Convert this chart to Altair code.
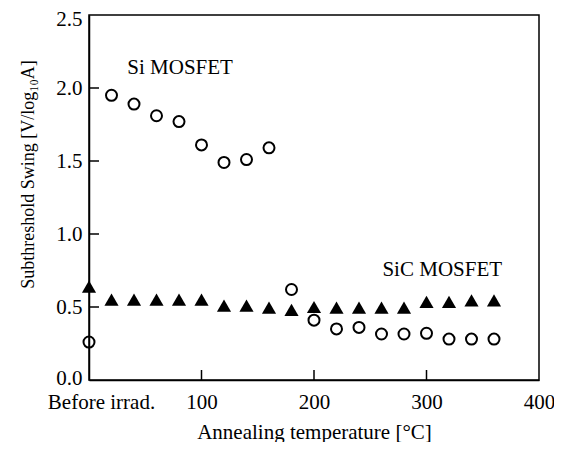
import altair as alt
import pandas as pd

# Data
temps = [0, 20, 40, 60, 80, 100, 120, 140, 160, 180, 200, 220, 240, 260, 280, 300, 320, 340, 360]
si_swing = [0.26, 1.95, 1.89, 1.81, 1.77, 1.61, 1.49, 1.51, 1.59, 0.62, 0.41, 0.35, 0.36, 0.315, 0.315, 0.32, 0.28, 0.28, 0.28]
sic_swing = [0.64, 0.55, 0.55, 0.55, 0.55, 0.55, 0.51, 0.51, 0.495, 0.48, 0.50, 0.495, 0.495, 0.495, 0.495, 0.535, 0.535, 0.545, 0.545]

x_tick_values = [0, 100, 200, 300, 400]
x_inner_ticks = [100, 200, 300]
y_tick_values = [0.0, 0.5, 1.0, 1.5, 2.0, 2.5]
y_inner_ticks = [0.5, 1.0, 1.5, 2.0]

label_text = ["Si MOSFET", "SiC MOSFET"]
label_x = [81, 314]
label_y = [2.14, 0.753]

FONT = "Liberation Serif"
FS = 21
W, H = 450, 365

si_df = pd.DataFrame({"T": temps, "S": si_swing})
sic_df = pd.DataFrame({"T": temps, "S": sic_swing})
lab_df = pd.DataFrame({"T": label_x, "S": label_y, "txt": label_text})
xt_df = pd.DataFrame({"T": x_inner_ticks})
yt_df = pd.DataFrame({"S": y_inner_ticks})

xscale = alt.Scale(domain=[0, 400], nice=False, zero=False)
yscale = alt.Scale(domain=[0, 2.5], nice=False)

xaxis = alt.Axis(
    values=x_tick_values,
    labelExpr="datum.value == 0 ? 'Before irrad.' : datum.label",
    labelOffset={"condition": {"test": "datum.value == 0", "value": 12}, "value": 0},
    ticks=False, grid=False, domainColor="black", domainWidth=1.5,
    labelFont=FONT, labelFontSize=FS, labelColor="black", labelPadding=11,
    title="Annealing temperature [°C]", titleFont=FONT, titleFontSize=FS,
    titleFontWeight="normal", titleColor="black", titlePadding=9,
    labelFlush=False, labelOverlap=False,
)
yaxis = alt.Axis(
    values=y_tick_values, format=".1f",
    labelOffset={"condition": [
        {"test": "datum.value == 2.5", "value": 4.5},
        {"test": "datum.value == 0", "value": -1.5},
    ], "value": 0},
    ticks=False, grid=False, domainColor="black", domainWidth=1.5,
    labelFont=FONT, labelFontSize=FS, labelColor="black", labelPadding=7,
    title="Subthreshold Swing [V/log₁₀A]", titleFont=FONT, titleFontSize=18,
    titleFontWeight="normal", titleColor="black",
    titleX=-52, titleY=159, titleBaseline="bottom", titleAngle=270,
    labelFlush=False, labelOverlap=False,
)

si = alt.Chart(si_df).mark_point(
    shape="circle", filled=False, stroke="black", strokeWidth=2, size=121, opacity=1
).encode(
    x=alt.X("T:Q", scale=xscale, axis=xaxis),
    y=alt.Y("S:Q", scale=yscale, axis=yaxis),
)

sic = alt.Chart(sic_df).mark_point(
    shape="triangle-up", filled=True, color="black", size=200, opacity=1
).encode(
    x=alt.X("T:Q", scale=xscale),
    y=alt.Y("S:Q", scale=yscale),
)

labels = alt.Chart(lab_df).mark_text(
    font=FONT, fontSize=FS, color="black", align="center", baseline="middle"
).encode(
    x=alt.X("T:Q", scale=xscale),
    y=alt.Y("S:Q", scale=yscale),
    text="txt:N",
)

xticks = alt.Chart(xt_df).mark_rule(color="black", strokeWidth=1.5).encode(
    x=alt.X("T:Q", scale=xscale),
    y=alt.value(H),
    y2=alt.value(H - 10),
)

yticks = alt.Chart(yt_df).mark_rule(color="black", strokeWidth=1.5).encode(
    y=alt.Y("S:Q", scale=yscale),
    x=alt.value(0),
    x2=alt.value(10),
)

chart = alt.layer(xticks, yticks, si, sic, labels).properties(
    width=W, height=H,
    autosize=alt.AutoSizeParams(type="none"),
    padding={"left": 81, "top": 7, "right": 15, "bottom": 62},
    background="white",
).configure_view(
    stroke="black", strokeWidth=1.5
)

chart.save("out.html", embed_options={"renderer": "svg", "actions": False})
